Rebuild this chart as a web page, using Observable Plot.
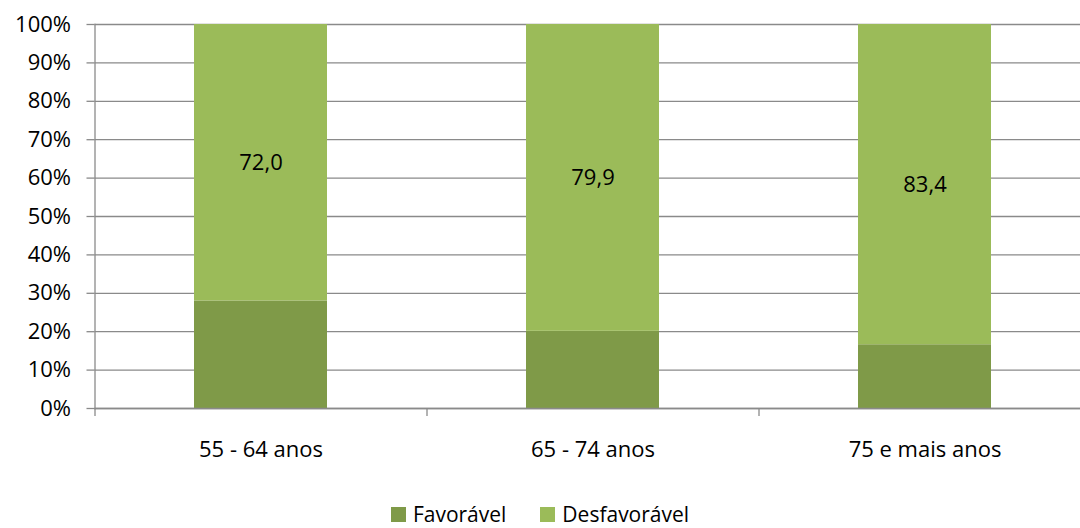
<!DOCTYPE html>
<html><head><meta charset="utf-8">
<script src="https://cdn.jsdelivr.net/npm/d3@7"></script>
<script src="https://cdn.jsdelivr.net/npm/@observablehq/plot@0.6"></script>
<style>
html,body{margin:0;padding:0;background:#fff;overflow:hidden;}
#legend{display:flex;justify-content:center;align-items:center;height:28px;font-family:"Open Sans",sans-serif;font-size:21px;line-height:24px;color:#000;}
#legend span.sw{display:inline-block;width:15px;height:15px;margin-right:7px;}
#legend .item{display:flex;align-items:center;margin:0 17px;}
#chart svg{display:block;}
</style>
</head><body>
<div id="chart"></div>
<div id="legend"></div>
<script>
const categories = ["55 - 64 anos", "65 - 74 anos", "75 e mais anos"];
const series = ["Favorável", "Desfavorável"];
const favoravel = [28.0, 20.1, 16.6];
const desfavoravel = [72.0, 79.9, 83.4];
const yTicks = [0, 10, 20, 30, 40, 50, 60, 70, 80, 90, 100];
const colors = ["#7F9A48", "#9BBB59"];

const data = [];
categories.forEach((c, i) => {
  data.push({cat: c, series: series[0], value: favoravel[i]});
  data.push({cat: c, series: series[1], value: desfavoravel[i]});
});
const fmt = v => v.toFixed(1).replace(".", ",");
const axisColor = "#8a8a8a";

const chart = Plot.plot({
  width: 1080,
  height: 500,
  marginLeft: 94.5,
  marginRight: 0,
  marginTop: 24,
  marginBottom: 92,
  style: {fontFamily: "'Open Sans', sans-serif", fontSize: "22px", color: "#000", background: "#fff"},
  x: {domain: categories, range: [94.5, 1090.5], paddingInner: 0.6, paddingOuter: 0.3, label: null},
  y: {domain: [0, 100], label: null},
  color: {domain: series, range: colors},
  marks: [
    Plot.gridY(yTicks, {stroke: axisColor, strokeOpacity: 1, strokeWidth: 1.3}),
    Plot.barY(data, {x: "cat", y: "value", fill: "series", order: series}),
    Plot.text(data, Plot.stackY({x: "cat", y: "value", z: "series", order: series,
      text: d => d.series === "Desfavorável" ? fmt(d.value) : null, fill: "#000", fontSize: 22})),
    Plot.frame({anchor: "left", stroke: axisColor, strokeWidth: 1.3}),
    Plot.ruleY([0], {stroke: axisColor, strokeWidth: 1.5}),
    Plot.axisY(yTicks, {tickSize: 8, tickPadding: 16, tickFormat: d => d + "%", stroke: axisColor, strokeWidth: 1.3, fontSize: 22}),
    Plot.ruleX(categories, {x: d => d, dx: -166, y1: 0, y2: -2.1, stroke: axisColor, strokeWidth: 1.3}),
    Plot.axisX({tickSize: 0, tickPadding: 33, fontSize: 22})
  ]
});
document.getElementById("chart").appendChild(chart);

const leg = document.getElementById("legend");
series.forEach((s, i) => {
  const it = document.createElement("div");
  it.className = "item";
  it.innerHTML = `<span class="sw" style="background:${colors[i]}"></span>${s}`;
  leg.appendChild(it);
});
</script>
</body></html>
